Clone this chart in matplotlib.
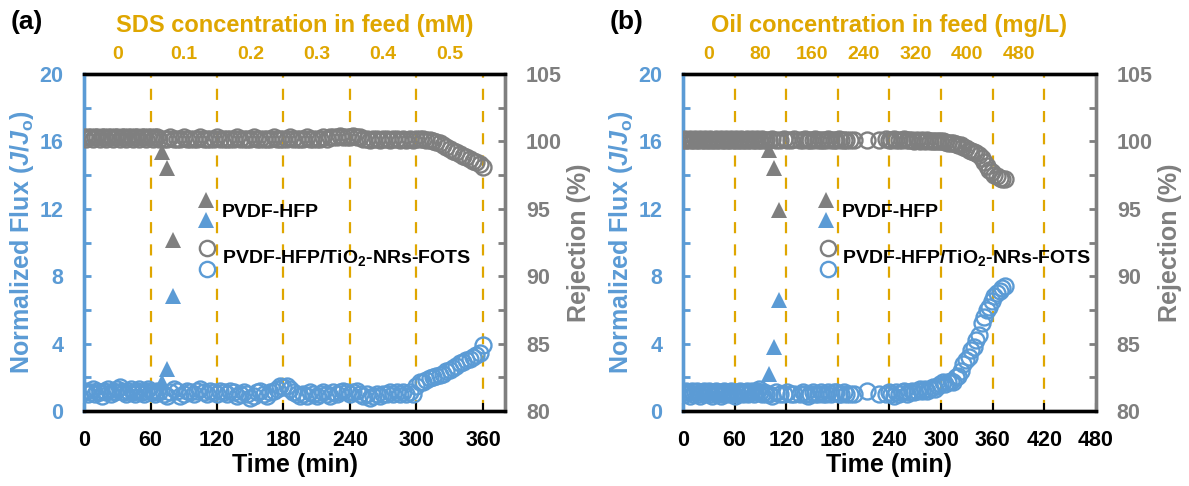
import matplotlib
matplotlib.use("Agg")
import matplotlib.pyplot as plt

plt.rcParams['font.family'] = 'Liberation Sans'
plt.rcParams['font.weight'] = 'bold'
plt.rcParams['axes.labelweight'] = 'bold'
plt.rcParams['mathtext.fontset'] = 'custom'
plt.rcParams['mathtext.rm'] = 'Liberation Sans:bold'
plt.rcParams['mathtext.it'] = 'Liberation Sans:italic:bold'
plt.rcParams['mathtext.bf'] = 'Liberation Sans:bold'

BLUE = '#5B9BD5'
GREY = '#7F7F7F'
GOLD = '#DFA600'

# ---- panel (a): SDS ----
t_a = [0, 2, 4, 6, 8, 10, 12, 14, 16, 18, 20, 22, 24, 26, 28, 30, 32, 34, 36, 38,
       40, 42, 44, 46, 48, 50, 52, 54, 56, 58, 60, 62, 64, 66, 68,
       72, 75, 78, 81, 84, 87, 90, 93, 96, 99, 102, 105, 108, 111, 114, 117, 120,
       123, 126, 129, 132, 135, 138, 141, 144, 147, 150, 153, 156, 159, 162, 165,
       168, 171, 174, 177, 180, 183, 186, 189, 192, 195, 198, 201, 204, 207, 210,
       213, 216, 219, 222, 225, 228, 231, 234, 237, 240, 243, 246, 249, 252, 255,
       258, 261, 264, 267, 270, 273, 276, 279, 282, 285, 288, 291, 294, 297, 300,
       303, 306, 309, 312, 315, 318, 321, 324, 327, 330, 333, 336, 339, 342, 345,
       348, 351, 354, 357, 360]
flux_a = [1.1, 1.2, 1.0, 1.1, 1.3, 1.0, 1.2, 1.1, 0.9, 1.2, 1.1, 1.3, 1.0, 1.2, 1.1,
          1.3, 1.4, 1.2, 1.1, 1.0, 1.2, 1.3, 1.1, 1.0, 1.2, 1.3, 1.1, 1.0, 1.2, 1.3,
          1.2, 1.1, 1.0, 1.2, 1.1,
          1.0, 0.9, 1.1, 1.3, 1.2, 0.9, 1.0, 1.2, 1.1, 1.0,
          1.2, 1.3, 1.1, 1.0, 1.2, 1.1, 1.0, 1.2, 1.1, 1.0,
          1.2, 1.1, 0.9, 1.0, 1.1, 1.0, 0.8, 0.9, 1.1, 1.2,
          1.0, 0.9, 1.1, 1.2, 1.3, 1.5, 1.4, 1.5, 1.3, 1.1,
          1.0, 0.9, 1.0, 0.9, 1.1, 1.0, 0.9, 1.0, 1.1, 1.0,
          0.9, 1.1, 1.0, 1.1, 1.2, 1.1, 1.0, 1.1, 1.2, 1.0,
          0.9, 1.0, 0.8, 0.9, 1.0, 0.9, 1.0, 1.0, 1.1, 1.0,
          1.1, 1.0, 1.1, 1.0, 1.1, 1.0, 1.5, 1.75, 1.7, 1.85,
          1.95, 2.0, 2.1, 2.15, 2.2, 2.35, 2.45, 2.55, 2.7, 2.85,
          2.9, 3.0, 3.1, 3.2, 3.3, 3.45, 3.9]
rej_a = [100.3, 100.2, 100.3, 100.3, 100.2, 100.3, 100.3, 100.2, 100.3, 100.3,
         100.2, 100.3, 100.3, 100.2, 100.3, 100.3, 100.2, 100.3, 100.3, 100.2,
         100.3, 100.3, 100.2, 100.3, 100.3, 100.2, 100.3, 100.3, 100.2, 100.3,
         100.3, 100.2, 100.3, 100.3, 100.2,
         100.2, 100.2, 100.3, 100.2, 100.2, 100.2, 100.3, 100.2, 100.2, 100.2,
         100.2, 100.3, 100.2, 100.2, 100.2, 100.2, 100.3, 100.2, 100.2, 100.2,
         100.2, 100.2, 100.3, 100.2, 100.2, 100.2, 100.2, 100.3, 100.2, 100.2,
         100.2, 100.2, 100.2, 100.3, 100.2, 100.2, 100.2, 100.2, 100.3, 100.2,
         100.2, 100.2, 100.2, 100.3, 100.2, 100.2, 100.2, 100.2, 100.3, 100.2,
         100.3, 100.3, 100.3, 100.4, 100.3, 100.3, 100.3, 100.4, 100.3, 100.3,
         100.2, 100.2, 100.1, 100.2, 100.2, 100.1, 100.2, 100.2, 100.1, 100.2,
         100.2, 100.1, 100.2, 100.1, 100.2, 100.1, 100.2, 100.2, 100.15, 100.1,
         100.1, 100.0, 99.95, 99.85, 99.7, 99.6, 99.45, 99.3, 99.2, 99.05,
         98.95, 98.85, 98.7, 98.55, 98.45, 98.3, 98.1]
t_tri_a = [70, 75, 80]
flux_tri_a = [1.7, 2.5, 6.8]
rej_tri_a = [99.2, 98.0, 92.7]
sds_labels = ['0', '0.1', '0.2', '0.3', '0.4', '0.5']

# ---- panel (b): oil ----
t_b = [0, 2, 4, 6, 8, 10, 12, 14, 16, 18, 20, 22, 24, 26, 28, 30, 32, 34, 36, 38,
       40, 42, 44, 46, 48, 50, 52, 54, 56, 58, 60, 62, 64, 66, 68, 70, 72, 74, 76,
       78, 80, 82, 84, 86, 88, 90, 92, 94, 96,
       100, 104, 108, 113, 117, 121, 125, 129, 136, 139, 142, 145, 148, 151, 154,
       157, 160, 163, 166, 169, 172, 175, 178, 181, 184, 187, 190, 194, 199, 214,
       228, 236, 239, 242, 245, 248, 251, 254, 257, 260, 263, 266, 269, 272, 275,
       278, 281, 284, 287, 290, 293, 296, 299, 302, 305, 308, 311, 314, 317, 320,
       323, 326, 329, 332, 335, 338, 341, 344, 347, 350, 353, 356, 359, 362, 365,
       368, 371, 374]
flux_b = [1.1, 1.0, 1.2, 1.1, 0.9, 1.2, 1.0, 1.1, 1.2, 1.0, 0.9, 1.1, 1.2, 1.0,
          1.1, 1.2, 1.0, 0.9, 1.1, 1.2, 1.0, 1.1, 0.9, 1.0, 1.2, 1.1, 1.0, 1.1,
          1.2, 1.0, 0.9, 1.1, 1.0, 1.2, 1.1, 1.0, 1.1, 1.2, 1.0, 1.1, 1.2, 1.0,
          1.1, 1.2, 1.3, 1.1, 1.0, 1.1, 1.0,
          1.0, 0.9, 1.1, 1.0, 1.0, 1.1, 1.0, 1.0,
          1.0, 1.1, 1.0, 0.9, 1.0, 1.1, 1.0, 1.0, 1.1, 1.0,
          1.0, 1.1, 1.0, 1.1, 1.1, 1.0, 1.0, 1.1, 1.0,
          1.0, 1.0, 1.2, 1.0,
          1.0, 1.1, 1.0, 0.9, 1.1, 1.0, 1.1, 1.2, 1.0, 1.1,
          1.2, 1.1, 1.2, 1.3, 1.2, 1.3, 1.2, 1.3, 1.4, 1.3,
          1.5, 1.6, 1.7, 1.6, 1.7, 1.8, 1.7, 2.0, 2.1, 2.4,
          2.8, 3.0, 3.2, 3.6, 3.8, 4.2, 4.5, 5.2, 5.6, 6.0,
          6.2, 6.5, 6.8, 7.0, 7.1, 7.3, 7.4]
rej_b = [100.1, 100.2, 100.1, 100.1, 100.2, 100.1, 100.1, 100.2, 100.1, 100.1,
         100.2, 100.1, 100.1, 100.2, 100.1, 100.1, 100.2, 100.1, 100.1, 100.2,
         100.1, 100.1, 100.2, 100.1, 100.1, 100.2, 100.1, 100.1, 100.2, 100.1,
         100.1, 100.2, 100.1, 100.1, 100.2, 100.1, 100.1, 100.2, 100.1, 100.1,
         100.2, 100.1, 100.1, 100.2, 100.1, 100.1, 100.2, 100.1, 100.1,
         100.1, 100.15, 100.1, 100.1, 100.15, 100.1, 100.1, 100.15,
         100.1, 100.1, 100.15, 100.1, 100.1, 100.1, 100.15, 100.1, 100.1, 100.1,
         100.1, 100.15, 100.1, 100.1, 100.1, 100.15, 100.1, 100.1, 100.1,
         100.1, 100.1, 100.1, 100.1,
         100.15, 100.1, 100.1, 100.15, 100.1, 100.1, 100.1, 100.15, 100.1, 100.1,
         100.1, 100.05, 100.1, 100.05, 100.1, 100.05, 100.1, 100.05, 100.05, 100.05,
         100.05, 100.0, 100.0, 99.95, 99.9, 99.9, 99.85, 99.8, 99.75, 99.7,
         99.6, 99.5, 99.4, 99.3, 99.25, 99.15, 99.0, 98.8, 98.5, 98.2,
         97.9, 97.7, 97.5, 97.4, 97.3, 97.2, 97.2]
t_tri_b = [100, 106, 112]
flux_tri_b = [2.2, 3.8, 6.6]
rej_tri_b = [99.4, 98.0, 94.9]
oil_labels = ['0', '80', '160', '240', '320', '400', '480']


def draw_panel(rect, tag, t, flux, rej, t_tri, flux_tri, rej_tri,
               xmax, xticks, top_labels, top_title, leg_x):
    ax = fig.add_axes(rect)
    axr = ax.twinx()

    for x in xticks[1:]:
        if x < xmax:
            ax.axvline(x, color=GOLD, lw=1.6, ls=(0, (5, 5)), zorder=0)

    ax.plot(t_tri, flux_tri, '^', color=BLUE, ms=12, mew=0, zorder=2)
    ax.plot(t, flux, 'o', mfc='none', mec=BLUE, ms=11.5, mew=1.7, zorder=3)
    axr.plot(t_tri, rej_tri, '^', color=GREY, ms=12, mew=0, zorder=2)
    axr.plot(t, rej, 'o', mfc='none', mec=GREY, ms=11.5, mew=1.7, zorder=3)

    ax.set_xlim(0, xmax)
    ax.set_ylim(0, 20)
    axr.set_ylim(80, 105)
    ax.set_xticks(xticks)
    ax.set_yticks([0, 4, 8, 12, 16, 20])
    ax.set_yticks([2, 6, 10, 14, 18], minor=True)
    axr.set_yticks([80, 85, 90, 95, 100, 105])
    axr.set_yticks([82.5, 87.5, 92.5, 97.5, 102.5], minor=True)

    ax.tick_params(axis='x', direction='in', length=6, width=1.5, pad=14,
                   labelsize=15.5, colors='black')
    ax.tick_params(axis='y', which='both', direction='in', length=5, width=2,
                   pad=15, labelsize=15.5, colors=BLUE)
    axr.tick_params(axis='y', which='both', direction='in', length=5, width=2,
                    pad=15, labelsize=15.5, colors=GREY)

    for a in (ax, axr):
        a.spines['top'].set_color('black')
        a.spines['bottom'].set_color('black')
        a.spines['left'].set_color(BLUE)
        a.spines['right'].set_color(GREY)
        for s in a.spines.values():
            s.set_linewidth(2.4)

    ax.set_xlabel('Time (min)', fontsize=18, labelpad=1)
    ax.set_ylabel(r'Normalized Flux ($\mathit{J}$/$\mathit{J}_\mathrm{o}$)',
                  fontsize=18, color=BLUE, labelpad=2)
    axr.set_ylabel('Rejection (%)', fontsize=18, color=GREY, labelpad=4)

    top = ax.secondary_xaxis('top')
    top.set_xticks([30 + 60 * i for i in range(len(top_labels))], labels=top_labels)
    top.tick_params(length=0, pad=8, labelsize=14, colors=GOLD)
    top.spines['top'].set_visible(False)
    top.set_xlabel(top_title, fontsize=17, color=GOLD, labelpad=10)

    # stacked legend markers
    tr = axr.transAxes
    axr.plot([leg_x], [0.626], '^', color=GREY, ms=11, mew=0, transform=tr, clip_on=False)
    axr.plot([leg_x], [0.567], '^', color=BLUE, ms=11, mew=0, transform=tr, clip_on=False)
    axr.text(leg_x + 0.038, 0.590, 'PVDF-HFP', transform=tr, fontsize=14, va='center')
    axr.plot([leg_x + 0.004], [0.483], 'o', mfc='none', mec=GREY, ms=11, mew=1.7,
             transform=tr, clip_on=False)
    axr.plot([leg_x + 0.004], [0.420], 'o', mfc='none', mec=BLUE, ms=11, mew=1.7,
             transform=tr, clip_on=False)
    axr.text(leg_x + 0.038, 0.453, r'PVDF-HFP/TiO$_2$-NRs-FOTS', transform=tr,
             fontsize=14, va='center')

    fig.text(rect[0] - 0.062, 0.955, tag, fontsize=19, va='center', ha='left')
    return ax


fig = plt.figure(figsize=(11.89, 4.86), dpi=100)

draw_panel([0.0707, 0.1543, 0.3541, 0.6934], '(a)', t_a, flux_a, rej_a,
           t_tri_a, flux_tri_a, rej_tri_a, 380,
           [0, 60, 120, 180, 240, 300, 360], sds_labels,
           'SDS concentration in feed (mM)', 0.289)
draw_panel([0.5744, 0.1543, 0.3474, 0.6934], '(b)', t_b, flux_b, rej_b,
           t_tri_b, flux_tri_b, rej_tri_b, 480,
           [0, 60, 120, 180, 240, 300, 360, 420, 480], oil_labels,
           'Oil concentration in feed (mg/L)', 0.347)

fig.savefig('out.png', dpi=100)
